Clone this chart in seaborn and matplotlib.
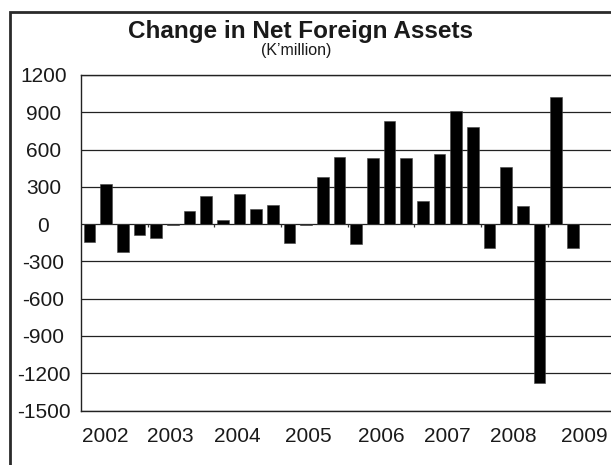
import matplotlib
matplotlib.use('Agg')
import matplotlib.pyplot as plt
import numpy as np
import pandas as pd
import seaborn as sns
from matplotlib.patches import Rectangle

# quarterly change in net foreign assets, 2002Q1 - 2009Q2 (K'million)
quarters = [f'{y}Q{q}' for y in range(2002, 2010) for q in range(1, 5)][:30]
values = [-142, 325, -223, -89, -115, -8, 102, 223, 35, 244,
          121, 156, -153, -8, 381, 543, -158, 529, 827, 534,
          183, 567, 910, 782, -190, 457, 142, -1280, 1021, -190]
years = ['2002', '2003', '2004', '2005', '2006', '2007', '2008', '2009']
year_pos = [0.97, 4.87, 8.89, 13.15, 17.53, 21.49, 25.45, 29.7]
yticks = list(range(-1500, 1201, 300))

df = pd.DataFrame({'quarter': quarters, 'value': values})

sns.set_style('white')
plt.rcParams['font.family'] = ['Liberation Sans', 'DejaVu Sans']

fig = plt.figure(figsize=(6.11, 4.65), dpi=100)
ax = fig.add_axes([81 / 611, 54.5 / 465, 533.5 / 611, 335.5 / 465])

ax.yaxis.grid(True, color='#222222', lw=0.9)
ax.set_axisbelow(True)
sns.barplot(df, x='quarter', y='value', color='black', width=0.7,
            saturation=1, edgecolor='#444444', linewidth=0.4, ax=ax)

# small year separators on the zero line
ax.vlines(np.arange(3.5, 31, 4), -22, 0, color='#333333', lw=0.9)

ax.set_xlim(-0.5, 31.5)
ax.set_ylim(-1500, 1200)
ax.set_yticks(yticks)
ax.set_yticklabels([str(t) for t in yticks], ha='center')
ax.set_xticks(year_pos)
ax.set_xticklabels(years)
ax.tick_params(axis='y', length=0, pad=27, labelsize=15, labelcolor='#1a1a1a')
ax.tick_params(axis='x', length=0, pad=12, labelsize=15, labelcolor='#1a1a1a')
ax.set_xlabel('')
ax.set_ylabel('')

for side in ['left', 'top', 'bottom']:
    ax.spines[side].set_visible(True)
    ax.spines[side].set_color('#222222')
    ax.spines[side].set_linewidth(1.0)
ax.spines['right'].set_visible(False)

fig.text(301 / 611, 1 - 38 / 465, 'Change in Net Foreign Assets',
         ha='center', va='baseline', fontsize=17.5, fontweight='bold', color='#1a1a1a')
fig.text(296 / 611, 1 - 55 / 465, '(K\u2019million)',
         ha='center', va='baseline', fontsize=11.5, color='#1a1a1a')

# outer frame
fig.patches.append(Rectangle((10 / 611, -0.1), 1.2, 1 - 12.5 / 465 + 0.1,
                             transform=fig.transFigure, fill=False,
                             edgecolor='#2a2a2a', lw=2.0))

fig.savefig('out.png', dpi=100)
